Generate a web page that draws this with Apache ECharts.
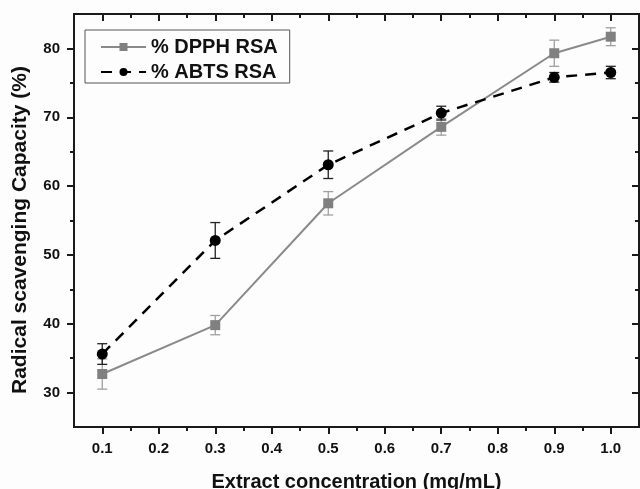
<!DOCTYPE html>
<html>
<head>
<meta charset="utf-8">
<script src="https://cdn.jsdelivr.net/npm/echarts@6/dist/echarts.min.js"></script>
<style>
html,body{margin:0;padding:0;background:#fdfdfd;}
#chart{width:640px;height:489px;}
</style>
</head>
<body>
<div id="chart"></div>
<script>
// ---- data ----
const concentration = [0.1, 0.3, 0.5, 0.7, 0.9, 1.0];
const dpphRSA = [32.7, 39.8, 57.5, 68.6, 79.3, 81.7];
const dpphErr = [2.2, 1.4, 1.7, 1.2, 1.9, 1.3];
const abtsRSA = [35.6, 52.1, 63.1, 70.6, 75.8, 76.5];
const abtsErr = [1.5, 2.6, 2.0, 1.0, 0.7, 0.9];
const xMajorTicks = [0.1, 0.2, 0.3, 0.4, 0.5, 0.6, 0.7, 0.8, 0.9, 1.0];
const xMinorTicks = [0.15, 0.25, 0.35, 0.45, 0.55, 0.65, 0.75, 0.85, 0.95];
const yMajorTicks = [30, 40, 50, 60, 70, 80];
const yMinorTicks = [35, 45, 55, 65, 75];
const seriesNames = ['% DPPH RSA', '% ABTS RSA'];
const xTitle = 'Extract concentration (mg/mL)';
const yTitle = 'Radical scavenging Capacity (%)';

const FONT = '"Liberation Sans", Arial, sans-serif';
const AX = '#1a1a1a';

function xAxisCfg(pos, ticks, len, inside, labels, name) {
  return {
    type: 'value', min: 0.05, max: 1.05, position: pos, gridIndex: 0,
    axisLine: { show: true, onZero: false, lineStyle: { color: AX, width: 2 } },
    axisTick: { show: true, customValues: ticks, length: len, inside: inside, lineStyle: { color: AX, width: 2 } },
    axisLabel: labels ? {
      show: true, customValues: ticks, margin: 14,
      formatter: v => Number(v).toFixed(1),
      fontFamily: FONT, fontWeight: 'bold', fontSize: 15, color: '#111'
    } : { show: false },
    splitLine: { show: false },
    name: name || '', nameLocation: 'middle', nameGap: 45,
    nameTextStyle: { fontFamily: FONT, fontWeight: 'bold', fontSize: 20, color: '#111' }
  };
}
function yAxisCfg(pos, ticks, len, inside, labels, name) {
  return {
    type: 'value', min: 25, max: 85, position: pos, gridIndex: 0,
    axisLine: { show: true, onZero: false, lineStyle: { color: AX, width: 2 } },
    axisTick: { show: true, customValues: ticks, length: len, inside: inside, lineStyle: { color: AX, width: 2 } },
    axisLabel: labels ? {
      show: true, customValues: ticks, margin: 14,
      fontFamily: FONT, fontWeight: 'bold', fontSize: 15, color: '#111'
    } : { show: false },
    splitLine: { show: false },
    name: name || '', nameLocation: 'middle', nameGap: 43,
    nameTextStyle: { fontFamily: FONT, fontWeight: 'bold', fontSize: 21, color: '#111', padding: [0, 19, 0, 0] }
  };
}

function errorBars(vals, errs, color) {
  return {
    type: 'custom', xAxisIndex: 0, yAxisIndex: 0, z: 1, silent: true,
    data: concentration.map((x, i) => [x, vals[i], errs[i]]),
    encode: { x: 0, y: 1 },
    renderItem: function (params, api) {
      const x = api.value(0), y = api.value(1), e = api.value(2);
      const t = api.coord([x, y + e]);
      const b = api.coord([x, y - e]);
      const h = 5;
      const st = { stroke: color, lineWidth: 1.3 };
      return {
        type: 'group', children: [
          { type: 'line', shape: { x1: t[0], y1: t[1], x2: b[0], y2: b[1] }, style: st },
          { type: 'line', shape: { x1: t[0] - h, y1: t[1], x2: t[0] + h, y2: t[1] }, style: st },
          { type: 'line', shape: { x1: b[0] - h, y1: b[1], x2: b[0] + h, y2: b[1] }, style: st }
        ]
      };
    }
  };
}

const chart = echarts.init(document.getElementById('chart'), null, { renderer: 'canvas' });
chart.setOption({
  backgroundColor: '#fdfdfd',
  animation: false,
  grid: { left: 74, right: 1, top: 14, bottom: 62, containLabel: false, outerBoundsMode: 'none' },
  legend: {
    data: seriesNames, orient: 'vertical', left: 85, top: 30,
    padding: [7, 12, 1, 15], itemGap: 5, itemWidth: 45, itemHeight: 10,
    borderColor: '#555', borderWidth: 1, backgroundColor: '#fdfdfd',
    textStyle: { fontFamily: FONT, fontWeight: 'bold', fontSize: 20, color: '#111' }
  },
  xAxis: [
    xAxisCfg('bottom', xMajorTicks, 7, false, true, xTitle),
    xAxisCfg('bottom', xMinorTicks, 4, false, false),
    xAxisCfg('top', xMajorTicks, 7, true, false),
    xAxisCfg('top', xMinorTicks, 4, true, false)
  ],
  yAxis: [
    yAxisCfg('left', yMajorTicks, 7, false, true, yTitle),
    yAxisCfg('left', yMinorTicks, 4, false, false),
    yAxisCfg('right', yMajorTicks, 7, true, false),
    yAxisCfg('right', yMinorTicks, 4, true, false)
  ],
  series: [
    errorBars(dpphRSA, dpphErr, '#a0a0a0'),
    errorBars(abtsRSA, abtsErr, '#222'),
    {
      name: seriesNames[0], type: 'line', xAxisIndex: 0, yAxisIndex: 0, z: 3,
      data: concentration.map((x, i) => [x, dpphRSA[i]]),
      symbol: 'rect', symbolSize: 10,
      lineStyle: { color: '#8a8a8a', width: 2 },
      itemStyle: { color: '#808080' }
    },
    {
      name: seriesNames[1], type: 'line', xAxisIndex: 0, yAxisIndex: 0, z: 4,
      data: concentration.map((x, i) => [x, abtsRSA[i]]),
      symbol: 'circle', symbolSize: 11,
      lineStyle: { color: '#000', width: 2.5, type: [11, 8] },
      itemStyle: { color: '#000' }
    }
  ]
});
</script>
</body>
</html>
